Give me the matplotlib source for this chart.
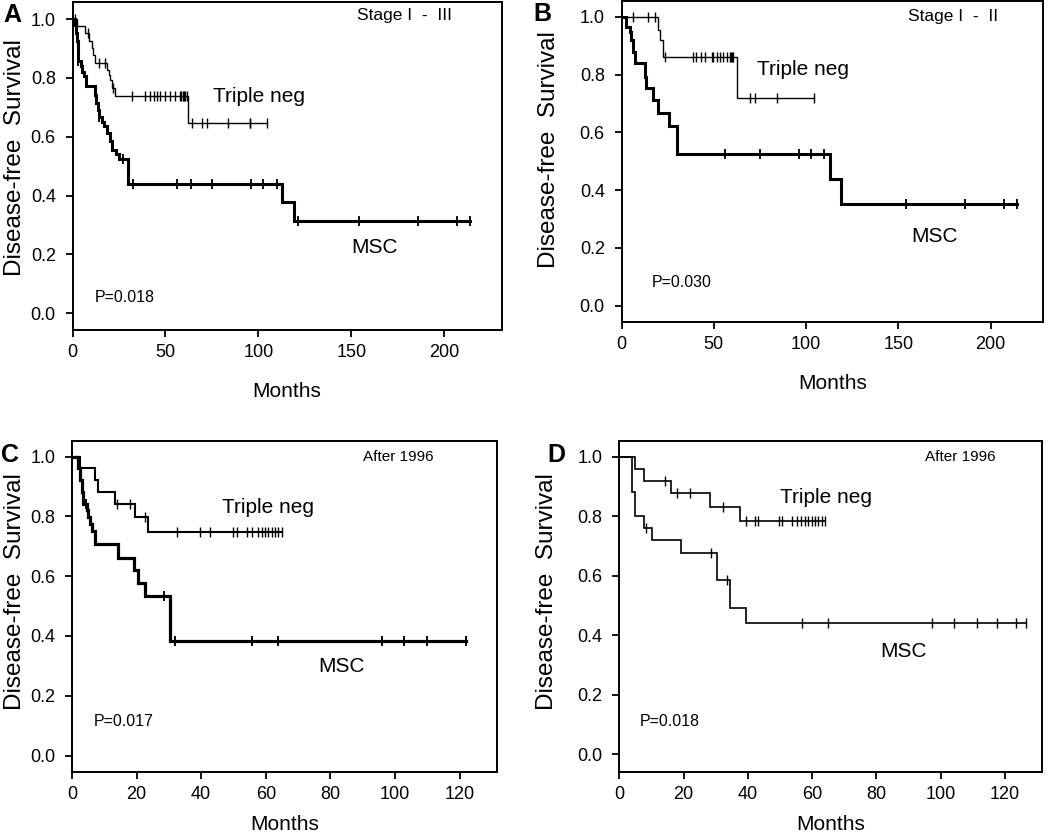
import numpy as np
import matplotlib.pyplot as plt

plt.rcParams['font.family'] = ['Liberation Sans', 'DejaVu Sans']

# Panel A - Stage I-III
a_tn_times = [2.3, 6.8, 9.0, 10.5, 11.3, 12.2, 18.5, 19.5, 20.3, 21.2, 23.0, 62.4]
a_tn_surv = [0.976, 0.952, 0.925, 0.900, 0.879, 0.852, 0.828, 0.810, 0.794, 0.765, 0.739, 0.646]
a_tn_cens = [1.4, 8.1, 14.0, 17.5, 22.0, 31.9, 39.1, 41.8, 44.0, 45.4, 47.2, 49.8, 52.5, 55.2,
             57.9, 58.6, 59.3, 60.0, 60.7, 61.4, 64.2, 69.6, 72.3, 83.9, 95.3, 95.8, 104.8]
a_msc_times = [1.3, 1.8, 2.4, 2.8, 3.0, 4.5, 5.2, 6.0, 7.2, 12.0, 12.8, 13.6, 14.2, 16.0, 17.0,
               18.5, 20.3, 21.2, 23.5, 25.0, 30.1, 112.6, 119.4]
a_msc_surv = [0.981, 0.952, 0.925, 0.896, 0.856, 0.839, 0.820, 0.805, 0.773, 0.743, 0.714, 0.690,
              0.667, 0.651, 0.635, 0.612, 0.584, 0.555, 0.540, 0.524, 0.440, 0.378, 0.314]
a_msc_cens = [3.2, 14.5, 27.4, 32.8, 56.1, 64.0, 75.0, 96.2, 102.7, 109.9, 121.5, 154.1, 185.9,
              206.7, 213.8]

# Panel B - Stage I-II
b_tn_times = [19.7, 21.0, 22.3, 62.6]
b_tn_surv = [0.954, 0.919, 0.862, 0.720]
b_tn_cens = [6.3, 14.4, 18.0, 23.4, 38.8, 40.6, 43.3, 45.1, 48.8, 49.6, 51.5, 53.3, 55.1, 56.9,
             58.7, 59.3, 59.9, 60.5, 69.5, 72.2, 84.0, 104.5]
b_msc_times = [2.7, 4.5, 5.4, 6.3, 7.2, 12.6, 13.5, 16.8, 19.9, 25.8, 30.2, 112.8, 119.2]
b_msc_surv = [0.965, 0.948, 0.919, 0.879, 0.839, 0.792, 0.752, 0.712, 0.666, 0.623, 0.525,
              0.437, 0.351]
b_msc_cens = [56.0, 74.9, 96.0, 102.9, 109.7, 154.4, 186.0, 207.2, 214.3]

# Panel C - After 1996
c_tn_times = [2.5, 7.1, 8.2, 13.3, 19.5, 23.6]
c_tn_surv = [0.961, 0.922, 0.883, 0.842, 0.797, 0.749]
c_tn_cens = [14.0, 18.1, 22.6, 32.6, 39.6, 42.7, 49.9, 51.0, 54.1, 55.6, 57.7, 58.7, 59.8,
             60.8, 61.8, 62.8, 63.9, 64.9]
c_msc_times = [2.0, 2.5, 3.0, 3.5, 4.5, 5.0, 5.6, 6.3, 7.1, 14.3, 19.2, 20.5, 22.6, 30.5]
c_msc_surv = [0.961, 0.922, 0.882, 0.842, 0.820, 0.797, 0.775, 0.752, 0.707, 0.662, 0.621,
              0.577, 0.532, 0.384]
c_msc_cens = [4.3, 28.5, 31.9, 55.8, 63.9, 95.9, 102.9, 109.8, 121.9]

# Panel D - After 1996
d_tn_times = [4.9, 7.7, 16.0, 28.2, 37.5]
d_tn_surv = [0.959, 0.919, 0.879, 0.832, 0.785]
d_tn_cens = [14.2, 18.0, 22.0, 32.3, 39.4, 42.2, 43.3, 49.8, 50.5, 53.6, 55.2, 56.5, 57.8,
             58.8, 59.8, 60.9, 61.9, 63.0, 64.0]
d_msc_times = [3.8, 4.9, 7.7, 10.1, 19.1, 30.3, 34.4, 39.4]
d_msc_surv = [0.882, 0.800, 0.759, 0.720, 0.675, 0.586, 0.490, 0.442]
d_msc_cens = [8.3, 28.4, 33.4, 56.7, 64.8, 97.2, 104.1, 111.4, 117.4, 123.4, 126.5]


def km_curve(ax, times, surv, cens, lw):
    end = max(max(cens), max(times))
    xs = [0] + list(times) + [end]
    ys = [1.0] + list(surv) + [surv[-1]]
    ax.step(xs, ys, where='post', color='black', lw=lw, solid_joinstyle='miter')
    t = np.array(times)
    s = np.array(surv)
    idx = np.searchsorted(t, cens, side='right')
    lev = np.where(idx == 0, 1.0, s[np.maximum(idx - 1, 0)])
    ax.plot(cens, lev, ls='none', marker='|', ms=7, mew=max(1.0, lw * 0.6), color='black')


def style_axes(ax, xlim, ylim, xticks, xpad):
    ax.set_xlim(*xlim)
    ax.set_ylim(*ylim)
    ax.set_xticks(xticks)
    ax.set_yticks([0.0, 0.2, 0.4, 0.6, 0.8, 1.0])
    ax.set_yticklabels(['0.0', '0.2', '0.4', '0.6', '0.8', '1.0'])
    for sp in ax.spines.values():
        sp.set_linewidth(1.4)
    ax.tick_params(axis='both', direction='out', length=5, width=1.3, labelsize=13)
    ax.tick_params(axis='y', pad=7)
    ax.tick_params(axis='x', pad=5)
    ax.set_xlabel('Months', fontsize=15, labelpad=xpad)


fig = plt.figure(figsize=(10.5, 8.34), dpi=100)
W, H = 1050, 834


def add_ax(left, right, top, bottom):
    return fig.add_axes([left / W, 1 - bottom / H, (right - left) / W, (bottom - top) / H])


axA = add_ax(72.5, 501.7, 2, 330)
axB = add_ax(621.5, 1043, 0.5, 322)
axC = add_ax(72, 497, 441, 772)
axD = add_ax(619.3, 1042, 441, 772)

km_curve(axA, a_tn_times, a_tn_surv, a_tn_cens, 1.0)
km_curve(axA, a_msc_times, a_msc_surv, a_msc_cens, 2.2)
km_curve(axB, b_tn_times, b_tn_surv, b_tn_cens, 1.0)
km_curve(axB, b_msc_times, b_msc_surv, b_msc_cens, 2.2)
km_curve(axC, c_tn_times, c_tn_surv, c_tn_cens, 1.5)
km_curve(axC, c_msc_times, c_msc_surv, c_msc_cens, 2.3)
km_curve(axD, d_tn_times, d_tn_surv, d_tn_cens, 1.2)
km_curve(axD, d_msc_times, d_msc_surv, d_msc_cens, 1.2)

style_axes(axA, (0, 231), (-0.057, 1.058), [0, 50, 100, 150, 200], 15)
style_axes(axB, (0, 228.4), (-0.056, 1.056), [0, 50, 100, 150, 200], 15)
style_axes(axC, (0, 131.6), (-0.055, 1.052), [0, 20, 40, 60, 80, 100, 120], 9)
style_axes(axD, (0, 131.5), (-0.06, 1.053), [0, 20, 40, 60, 80, 100, 120], 9)

# y labels
for ax, x, y in [(axA, -0.108, 0.527), (axB, -0.146, 0.535),
                 (axC, -0.108, 0.544), (axD, -0.146, 0.544)]:
    ax.set_ylabel('Disease-free  Survival', fontsize=17.5)
    ax.yaxis.set_label_coords(x, y)

# annotations
axA.text(178.8, 1.011, 'Stage I  -  III', fontsize=12.5, ha='center', va='center')
axA.text(75.8, 0.736, 'Triple neg', fontsize=15, ha='left', va='center')
axA.text(162.7, 0.222, 'MSC', fontsize=15, ha='center', va='center')
axA.text(12.2, 0.055, 'P=0.018', fontsize=11.5, ha='left', va='center')

axB.text(179.6, 1.0, 'Stage I  -  II', fontsize=12.5, ha='center', va='center')
axB.text(73.3, 0.816, 'Triple neg', fontsize=15, ha='left', va='center')
axB.text(169.8, 0.238, 'MSC', fontsize=15, ha='center', va='center')
axB.text(16.4, 0.082, 'P=0.030', fontsize=11.5, ha='left', va='center')

axC.text(101, 1.0, 'After 1996', fontsize=11, ha='center', va='center')
axC.text(46.4, 0.83, 'Triple neg', fontsize=15, ha='left', va='center')
axC.text(83.5, 0.298, 'MSC', fontsize=15, ha='center', va='center')
axC.text(6.8, 0.114, 'P=0.017', fontsize=11.5, ha='left', va='center')

axD.text(106, 1.0, 'After 1996', fontsize=11, ha='center', va='center')
axD.text(50, 0.864, 'Triple neg', fontsize=15, ha='left', va='center')
axD.text(88.3, 0.345, 'MSC', fontsize=15, ha='center', va='center')
axD.text(6.4, 0.11, 'P=0.018', fontsize=11.5, ha='left', va='center')

for letter, px, py in [('A', 12, 15), ('B', 542, 14), ('C', 10, 455), ('D', 556, 455)]:
    fig.text(px / W, 1 - py / H, letter, fontsize=18, fontweight='bold', ha='center', va='center')

fig.savefig('out.png', dpi=100)
